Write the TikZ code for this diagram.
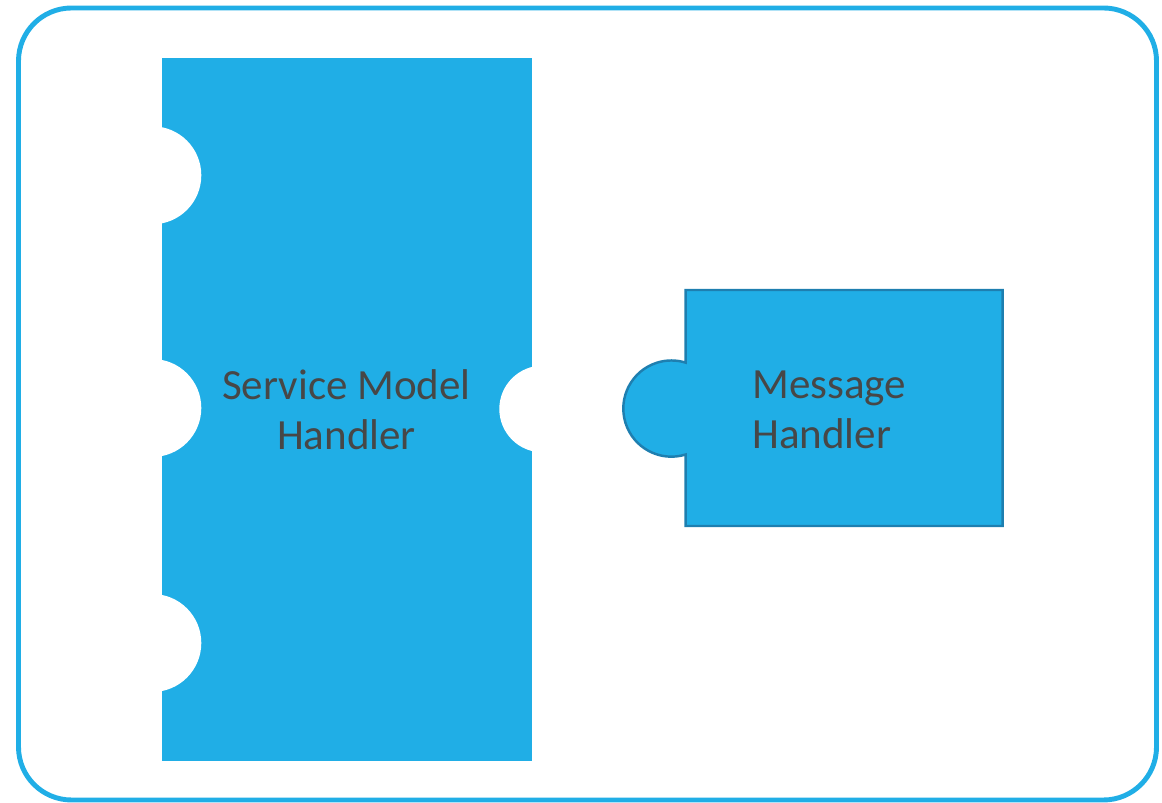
\documentclass[tikz,border=0pt]{standalone}
\usepackage{fontspec}
\setmainfont{Carlito}
\definecolor{pieceblue}{HTML}{20AEE6}
\definecolor{pieceedge}{HTML}{1E7FB0}
\definecolor{labelgray}{HTML}{474747}
\tikzset{
  piece/.style={fill=pieceblue},
  hole/.style={fill=white},
  piecetext/.style={text=labelgray, font=\fontsize{24.5}{28.7}\selectfont, inner sep=0pt}
}

\begin{document}
\begin{tikzpicture}[x=0.02cm,y=0.02cm]
\useasboundingbox (0,0) rectangle (1162,803);

% outer frame
\draw [pieceblue, line width=2.8pt, rounded corners=1.06cm] (18.5,3) rectangle (1156.5,795);

% service model handler
\fill [piece] (162,42) rectangle (531.7,745);
\fill [hole] (152.3,627.7) circle (49);
\fill [hole] (152.3,395) circle (49);
\fill [hole] (152.3,160) circle (49);
\fill [hole] (542.7,394) circle (43.4);
\node [piecetext, align=center] (smh) at (346.5,393) {Service Model\\Handler};

% message handler
\draw [piece, draw=pieceedge, line width=1.4pt]
  (685.7,440.5) -- (685.7,513) -- (1002.7,513) -- (1002.7,277) -- (685.7,277) -- (685.7,348.5)
  arc [start angle=-72.7, end angle=-287.3, radius=48.1] -- cycle;
\node [piecetext, align=left, anchor=west] (msg) at (752,393) {Message\\Handler};

\end{tikzpicture}
\end{document}
